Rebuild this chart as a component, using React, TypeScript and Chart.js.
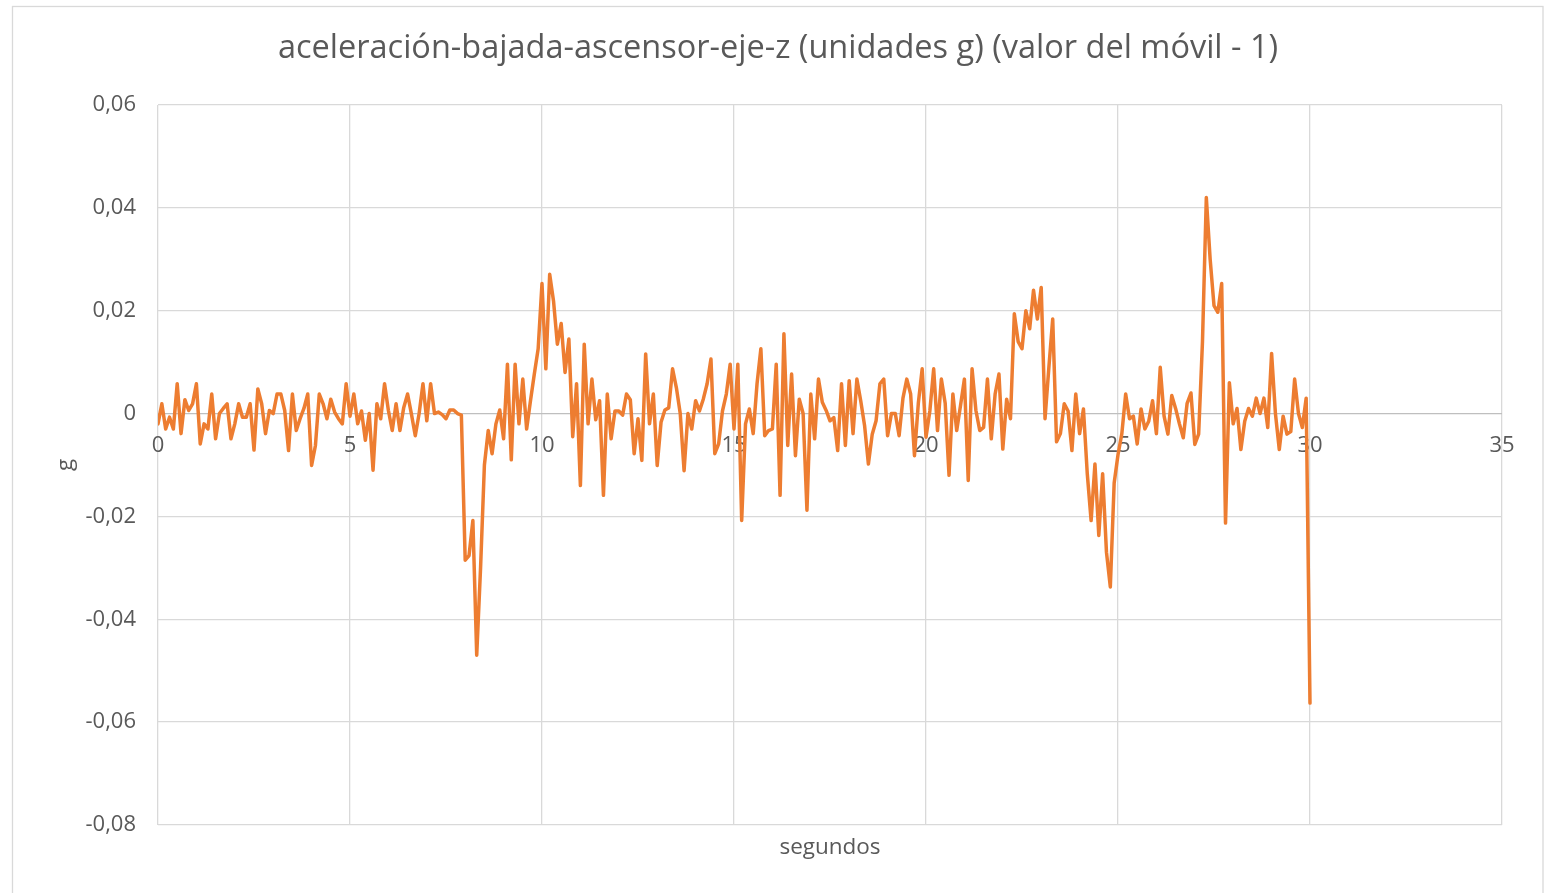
import React, { useEffect, useRef } from "react";
import { Chart, registerables } from "chart.js";

Chart.register(...registerables);

const TITLE = "aceleración-bajada-ascensor-eje-z (unidades g) (valor del móvil - 1)";
const X_TITLE = "segundos";
const Y_TITLE = "g";
const SAMPLE_STEP_S = 0.1;
const X_TICKS = [0, 5, 10, 15, 20, 25, 30, 35];
const Y_MIN = -0.08;
const Y_MAX = 0.06;
const Y_STEP = 0.02;

// acceleration (g) sampled every 0.1 s from 0 s to 30 s
const accelG = [
  -0.002, 0.0019, -0.003, -0.0007, -0.003, 0.0058, -0.0039, 0.0027, 0.0006, 0.0019,
  0.0058, -0.0059, -0.002, -0.003, 0.0038, -0.0049, 0, 0.001, 0.0019, -0.0049,
  -0.002, 0.0019, -0.0007, -0.0007, 0.0019, -0.0071, 0.0048, 0.0019, -0.0039, 0.0006,
  0, 0.0038, 0.0038, 0.0006, -0.0072, 0.0038, -0.0033, -0.001, 0.001, 0.0038,
  -0.0101, -0.0062, 0.0038, 0.0019, -0.001, 0.0028, 0.0003, -0.001, -0.002, 0.0058,
  -0.0005, 0.0038, -0.002, 0.0005, -0.0052, 0, -0.011, 0.0019, -0.001, 0.0058,
  0.0006, -0.0033, 0.0019, -0.0033, 0.0012, 0.0038, -0.0001, -0.0043, 0, 0.0058,
  -0.0014, 0.0058, 0, 0.0003, -0.0002, -0.001, 0.0007, 0.0007, 0, -0.0003,
  -0.0285, -0.0276, -0.0208, -0.047, -0.03, -0.01, -0.0033, -0.0078, -0.002, 0.0007,
  -0.0049, 0.0096, -0.009, 0.0096, -0.002, 0.0067, -0.003, 0.0025, 0.0077, 0.0126,
  0.0253, 0.0087, 0.0271, 0.0219, 0.0135, 0.0175, 0.008, 0.0145, -0.0045, 0.0058,
  -0.014, 0.0135, -0.002, 0.0067, -0.0012, 0.0025, -0.0159, 0.0038, -0.0049, 0.0005,
  0.0005, -0.0003, 0.0038, 0.0027, -0.0078, -0.001, -0.0091, 0.0116, -0.002, 0.0038,
  -0.0101, -0.0017, 0.0007, 0.0011, 0.0087, 0.005, 0, -0.0111, 0, -0.003,
  0.0025, 0.0005, 0.0028, 0.0058, 0.0106, -0.0078, -0.0059, 0.0005, 0.0038, 0.0096,
  -0.003, 0.0096, -0.0208, -0.002, 0.0009, -0.0039, 0.0058, 0.0126, -0.0043, -0.0033,
  -0.003, 0.0096, -0.0159, 0.0155, -0.0062, 0.0077, -0.0082, 0.0028, 0, -0.0188,
  0.0038, -0.0049, 0.0067, 0.0022, 0.0006, -0.0014, -0.0008, -0.0072, 0.0058, -0.0062,
  0.0064, -0.0039, 0.0067, 0.0025, -0.0023, -0.0098, -0.004, -0.0014, 0.0058, 0.0067,
  -0.0043, 0, 0, -0.0043, 0.003, 0.0067, 0.0038, -0.0082, 0.002, 0.0087,
  -0.0046, 0.0005, 0.0087, -0.0033, 0.0067, 0.002, -0.012, 0.0038, -0.0033, 0.0016,
  0.0067, -0.013, 0.0087, 0.0006, -0.0033, -0.0027, 0.0067, -0.0049, 0.0038, 0.0077,
  -0.0069, 0.0028, -0.001, 0.0194, 0.014, 0.0126, 0.02, 0.0165, 0.024, 0.0184,
  0.0245, -0.001, 0.009, 0.0184, -0.0055, -0.0039, 0.0019, 0.0005, -0.0072, 0.0038,
  -0.0039, 0.0009, -0.0117, -0.0208, -0.0098, -0.0237, -0.0117, -0.027, -0.0337, -0.0135,
  -0.008, -0.0039, 0.0038, -0.001, -0.0005, -0.0059, 0.0009, -0.003, -0.0015, 0.0025,
  -0.0039, 0.009, -0.0005, -0.004, 0.0035, 0.001, -0.002, -0.0047, 0.002, 0.004,
  -0.006, -0.004, 0.014, 0.042, 0.03, 0.021, 0.0197, 0.0253, -0.0213, 0.006,
  -0.002, 0.001, -0.007, -0.0015, 0.001, -0.0005, 0.003, 0, 0.003, -0.0027,
  0.0117, 0, -0.007, -0.0005, -0.004, -0.0035, 0.0067, 0, -0.0027, 0.003,
  -0.0563,
];

const FONT = "'Open Sans', 'DejaVu Sans', sans-serif";
const TEXT_COLOR = "#595959";
const GRID_COLOR = "#d9d9d9";
const LINE_COLOR = "#ed7d31";

function fmtComma(v: number): string {
  if (Math.abs(v) < 1e-9) return "0";
  return v.toFixed(2).replace(".", ",");
}

const decorPlugin = {
  id: "decor",
  beforeDraw(chart: any) {
    const ctx = chart.ctx;
    ctx.save();
    ctx.fillStyle = "#ffffff";
    ctx.fillRect(0, 0, chart.width, chart.height);
    ctx.strokeStyle = GRID_COLOR;
    ctx.lineWidth = 1.3;
    ctx.strokeRect(12.5, 6.5, 1530.5, chart.height + 20);
    ctx.restore();
  },
  beforeDatasetsDraw(chart: any) {
    const ctx = chart.ctx;
    const xs = chart.scales.x;
    const ys = chart.scales.y;
    ctx.save();
    ctx.fillStyle = TEXT_COLOR;
    ctx.font = `22px ${FONT}`;
    ctx.textAlign = "center";
    ctx.textBaseline = "middle";
    const zeroY = ys.getPixelForValue(0);
    for (const t of X_TICKS) {
      ctx.fillText(String(t), xs.getPixelForValue(t), zeroY + 32);
    }
    ctx.restore();
  },
  afterDraw(chart: any) {
    const ctx = chart.ctx;
    const area = chart.chartArea;
    ctx.save();
    ctx.fillStyle = TEXT_COLOR;
    ctx.textAlign = "center";
    ctx.textBaseline = "middle";
    ctx.font = `32.5px ${FONT}`;
    ctx.fillText(TITLE, 778, 49);
    ctx.font = `22.5px ${FONT}`;
    ctx.fillText(X_TITLE, (area.left + area.right) / 2, 848);
    ctx.translate(66, (area.top + area.bottom) / 2);
    ctx.rotate(-Math.PI / 2);
    ctx.fillText(Y_TITLE, 0, 0);
    ctx.restore();
  },
};

export default function App() {
  const canvasRef = useRef<HTMLCanvasElement | null>(null);

  useEffect(() => {
    document.body.style.margin = "0";
    const canvas = canvasRef.current;
    if (!canvas) return;
    const points = accelG.map((v, i) => ({ x: i * SAMPLE_STEP_S, y: v }));
    const chart = new Chart(canvas, {
      type: "line",
      data: {
        datasets: [
          {
            data: points,
            borderColor: LINE_COLOR,
            backgroundColor: LINE_COLOR,
            borderWidth: 3.5,
            pointRadius: 0,
            tension: 0,
            borderJoinStyle: "round",
            borderCapStyle: "round",
          },
        ],
      },
      options: {
        animation: false,
        responsive: true,
        maintainAspectRatio: false,
        layout: { padding: { left: 12, top: 105, right: 45, bottom: 68 } },
        plugins: {
          legend: { display: false },
          title: { display: false },
          tooltip: { enabled: false },
        },
        scales: {
          x: {
            type: "linear",
            min: 0,
            max: 35,
            ticks: { display: false, stepSize: 5 },
            grid: { color: GRID_COLOR, lineWidth: 1.3, drawTicks: false },
            border: { display: false },
            afterFit: (s: any) => {
              s.height = 0;
            },
          },
          y: {
            min: Y_MIN,
            max: Y_MAX,
            ticks: {
              stepSize: Y_STEP,
              padding: 22,
              color: TEXT_COLOR,
              font: { family: FONT, size: 22 },
              callback: (v: any) => fmtComma(Number(v)),
            },
            grid: {
              drawTicks: false,
              lineWidth: 1.3,
              color: (c: any) =>
                c.tick && Math.abs(c.tick.value) < 1e-9 ? "#bfbfbf" : GRID_COLOR,
            },
            border: { display: false },
            afterFit: (s: any) => {
              s.width = 146;
            },
          },
        },
      },
      plugins: [decorPlugin],
    });
    return () => chart.destroy();
  }, []);

  return (
    <div style={{ width: 1547, height: 893, position: "relative" }}>
      <canvas ref={canvasRef} />
    </div>
  );
}
